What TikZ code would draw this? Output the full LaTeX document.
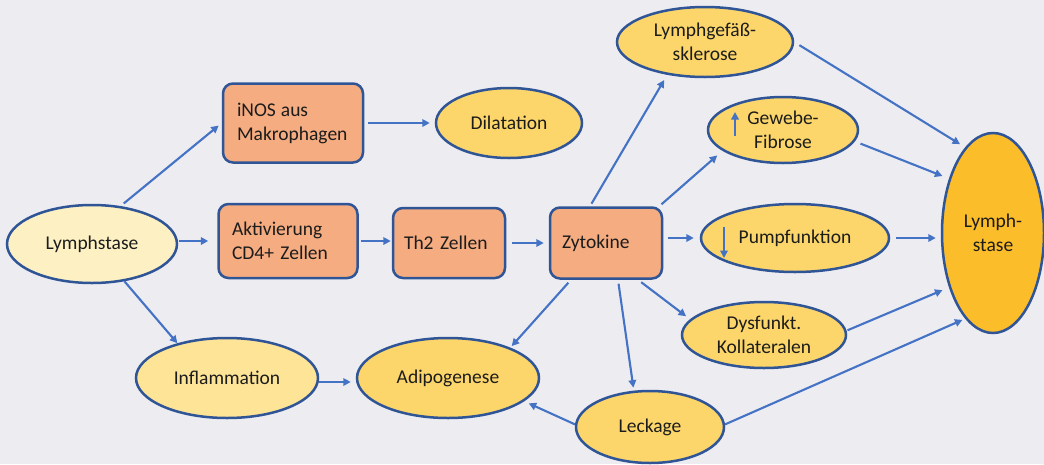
\documentclass[tikz,border=0pt]{standalone}
\usepackage{fontspec}
\setmainfont{Carlito}
\usetikzlibrary{arrows.meta,shapes.geometric}
\definecolor{bgc}{HTML}{EDEDF1}
\definecolor{boxc}{HTML}{F4AC80}
\definecolor{edgec}{HTML}{2F5597}
\definecolor{arrc}{HTML}{4472C4}
\definecolor{palec}{HTML}{FDF1C4}
\definecolor{lightgold}{HTML}{FDE497}
\definecolor{goldc}{HTML}{FCD66A}
\definecolor{deepgold}{HTML}{FCBD2B}
\definecolor{txtc}{HTML}{1C1C1C}
\begin{document}
\begin{tikzpicture}[x=1pt,y=-1pt,
  font=\fontsize{19.5}{24}\selectfont,
  box/.style={draw=edgec, fill=boxc, line width=2.5pt, rounded corners=10pt, inner sep=0pt, align=left, text=txtc},
  ell/.style={ellipse, draw=edgec, fill=goldc, line width=2.5pt, inner sep=0pt, align=center, text=txtc},
  arr/.style={draw=arrc, line width=2.1pt, -{Triangle[length=7.5pt,width=7.5pt]}}]
\fill[bgc] (0,0) rectangle (1044,464);
\useasboundingbox (0,0) rectangle (1044,464);

% nodes
\node[ell, fill=palec, minimum width=170pt, minimum height=78pt] (ls) at (92,244) {Lymphstase};
\node[box, text width=112pt, minimum width=140pt, minimum height=79pt] (inos) at (293,123) {iNOS\hspace{5pt}aus\\Makrophagen};
\node[ell, minimum width=146pt, minimum height=70pt] (dil) at (509,123) {Dilatation};
\node[box, text width=112pt, minimum width=139pt, minimum height=74pt] (akt) at (288,241) {Aktivierung\\CD4+ Zellen};
\node[box, text width=90pt, minimum width=112pt, minimum height=70pt] (th2) at (449,243) {Th2 Zellen};
\node[box, text width=88pt, minimum width=112pt, minimum height=71pt] (zyt) at (606,243) {Zytokine};
\node[ell, minimum width=176pt, minimum height=70pt] (lgs) at (705,42) {Lymphgefäß-\\sklerose};
\node[ell, minimum width=150pt, minimum height=66pt] (gew) at (783,130) {Gewebe-\\Fibrose};
\node[ell, minimum width=188pt, minimum height=68pt] (pump) at (795,238) {Pumpfunktion};
\node[ell, minimum width=164pt, minimum height=66pt] (dys) at (764,335) {Dysfunkt.\\Kollateralen};
\node[ell, fill=deepgold, minimum width=102pt, minimum height=200pt] (rls) at (993,233) {Lymph-\\stase};
\node[ell, fill=lightgold, minimum width=182pt, minimum height=80pt] (infl) at (227,378) {Inflammation};
\node[ell, minimum width=182pt, minimum height=80pt] (adi) at (448,378) {Adipogenese};
\node[ell, minimum width=148pt, minimum height=72pt] (leck) at (650,427) {Leckage};

% connectors
\draw[arr, shorten <=4pt, shorten >=4pt] (ls.53) -- (inos.west);
\draw[arr, shorten <=1pt, shorten >=9pt] (ls.east |- akt.west) -- (akt.west);
\draw[arr] (ls.-49) -- (infl.145);
\draw[arr, shorten <=4pt, shorten >=5pt] (inos.east) -- (dil.west);
\draw[arr, shorten <=2pt, shorten >=1pt] (akt.east) -- (akt.east -| th2.west);
\draw[arr, shorten <=6pt, shorten >=5pt] (th2.east) -- (zyt.west);
\draw[arr, shorten <=3pt, shorten >=6pt] ([xshift=-16pt]zyt.north) -- (lgs.221);
\draw[arr, shorten <=3pt, shorten >=7pt] ([xshift=-4pt]zyt.north east) -- (gew.199);
\draw[arr, shorten <=5pt, shorten >=6pt] (zyt.east |- pump.west) -- (pump.west);
\draw[arr, shorten <=4pt, shorten >=5pt] ([xshift=32pt]zyt.south) -- (dys.168);
\draw[arr, shorten <=4pt, shorten >=3pt] ([xshift=12pt]zyt.south) -- (leck.114);
\draw[arr, shorten <=4pt, shorten >=2pt] ([xshift=-35pt]zyt.south) -- (adi.26);
\draw[arr, shorten >=5pt] ([yshift=-4pt]infl.east) -- ([yshift=-4pt]adi.west);
\draw[arr, shorten >=5pt] (leck.178) -- (adi.-17);
\draw[arr, shorten <=6pt, shorten >=6pt] (lgs.east) -- (rls.108);
\draw[arr, shorten <=6pt, shorten >=7pt] (gew.-9) -- (rls.129);
\draw[arr, shorten <=6pt, shorten >=5pt] (pump.east) -- (pump.east -| rls.west);
\draw[arr, shorten <=1pt, shorten >=7pt] (dys.3) -- (rls.231);
\draw[arr, shorten >=3pt] (leck.2) -- (rls.252);

% small indicator arrows inside the ellipses
\draw[arr] (735,136) -- (735,112);
\draw[arr] (724,227) -- (724,258);
\end{tikzpicture}
\end{document}
